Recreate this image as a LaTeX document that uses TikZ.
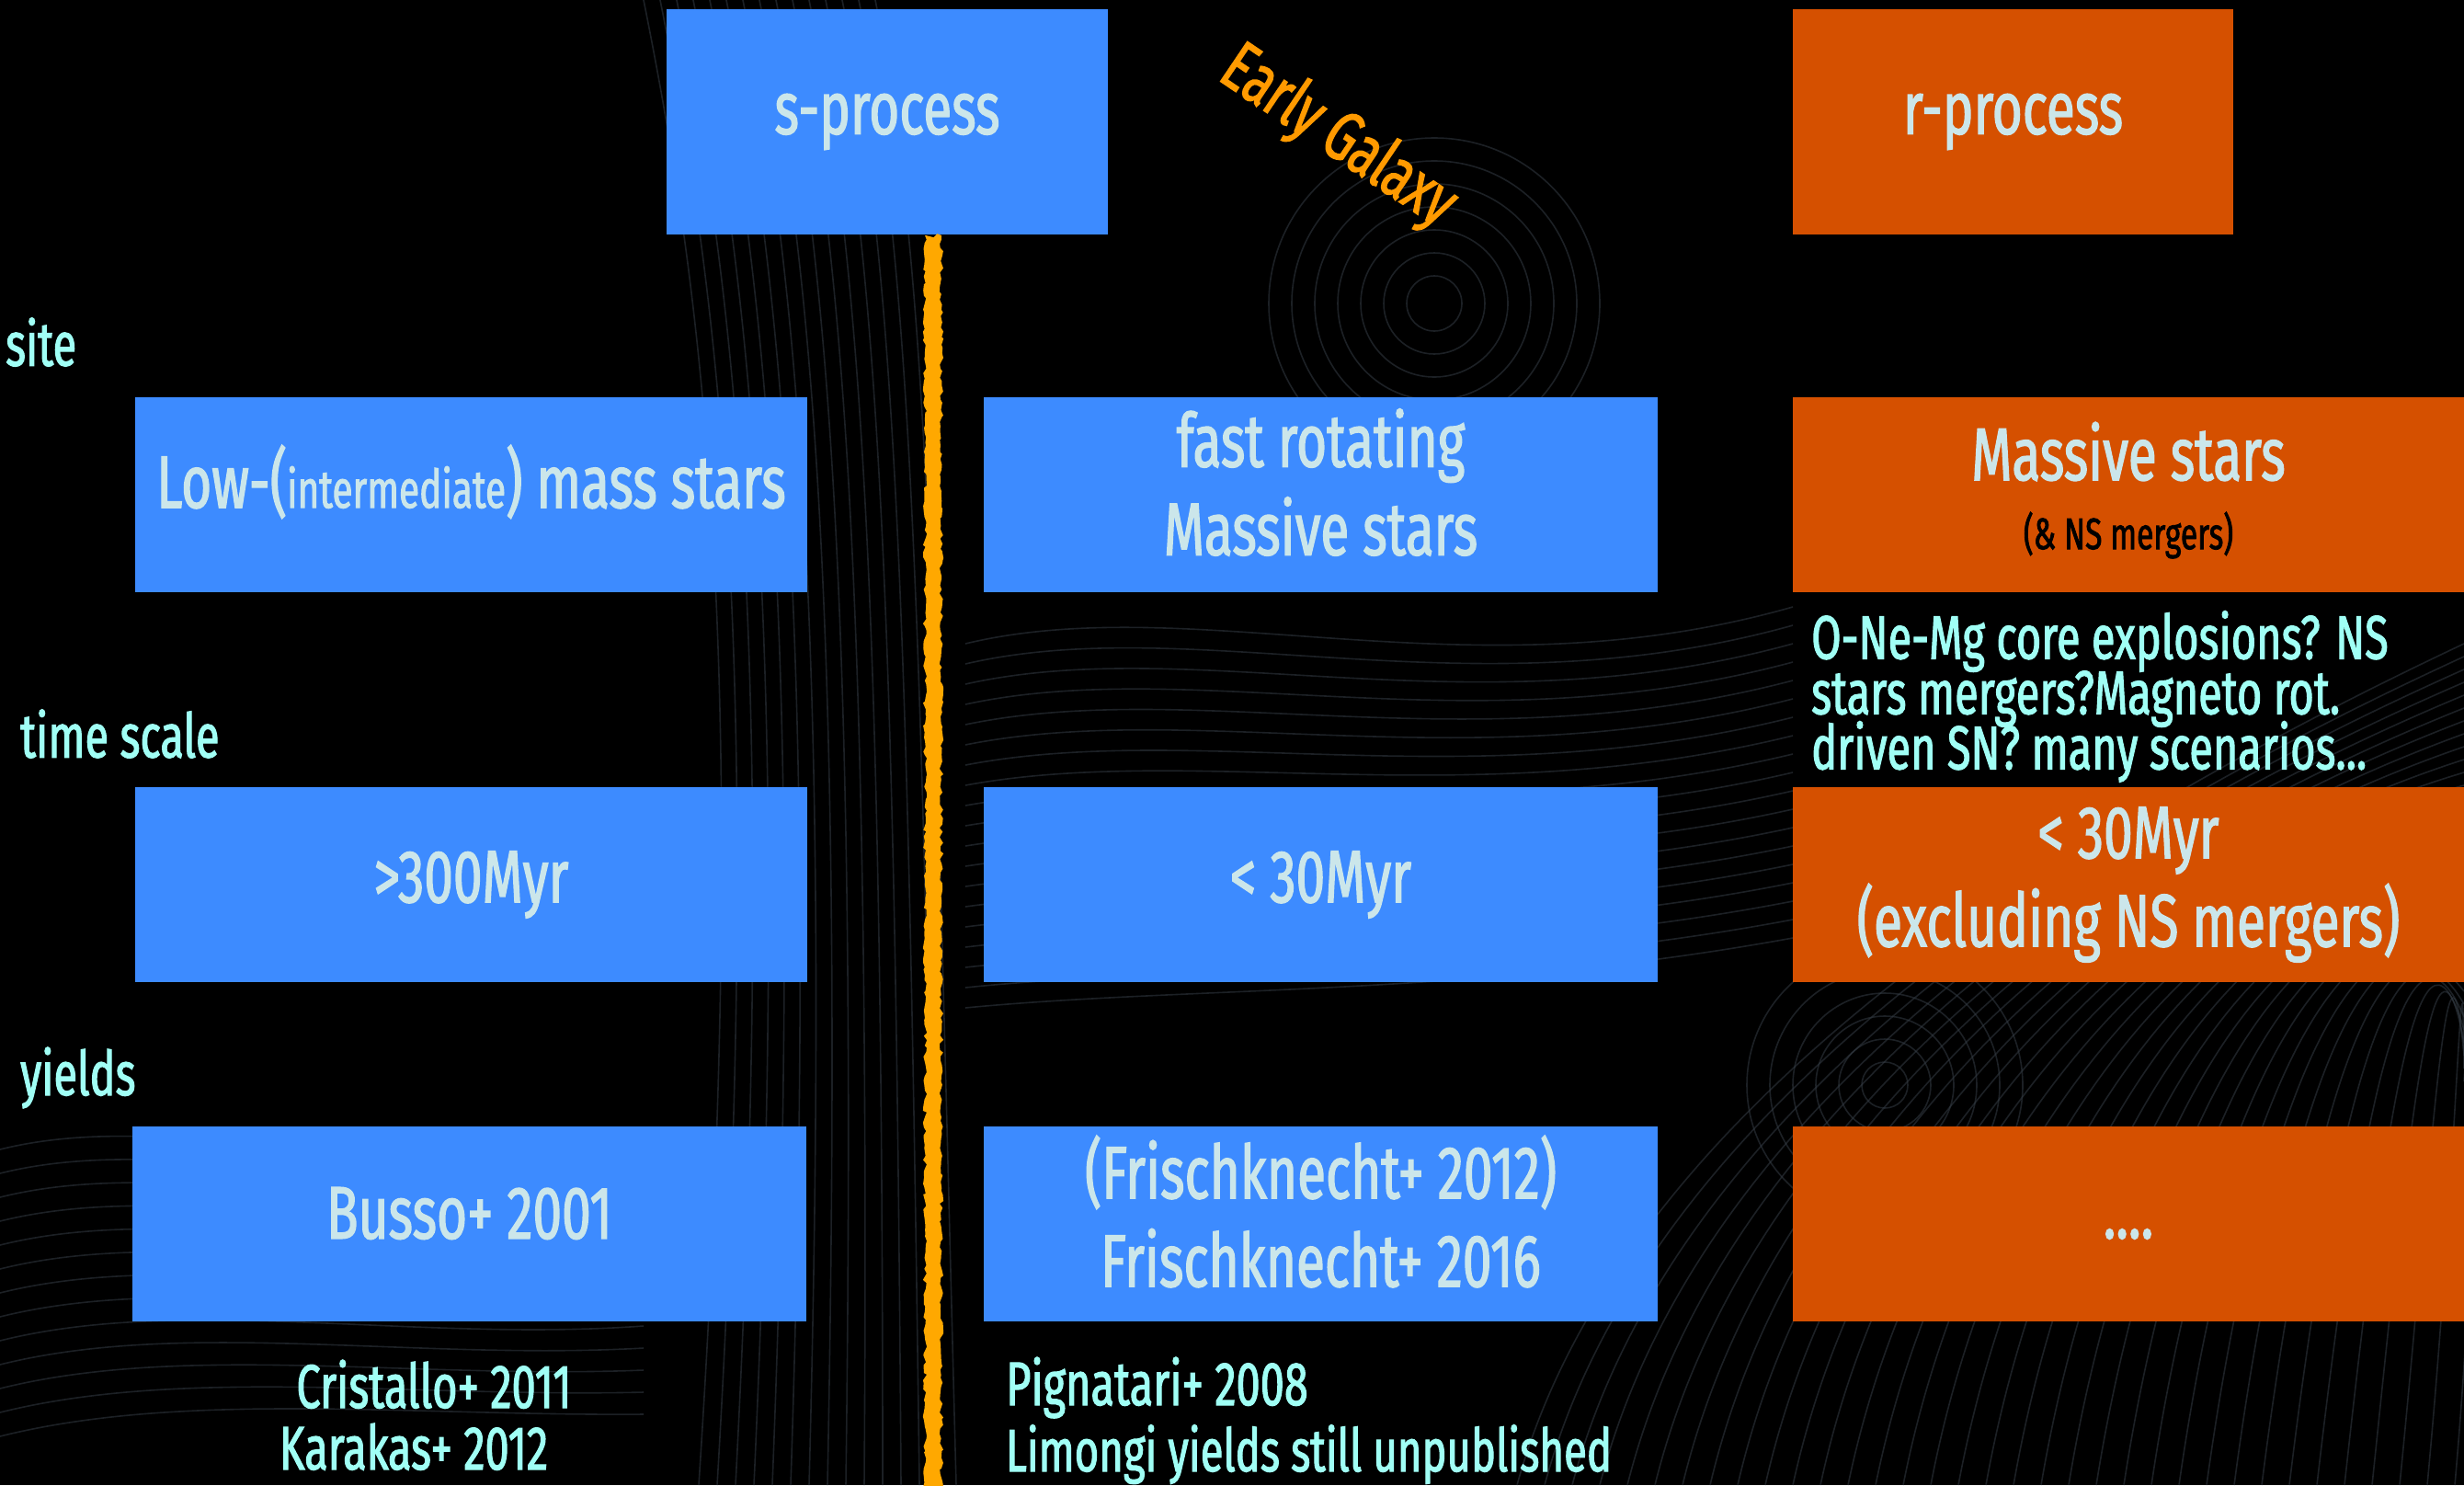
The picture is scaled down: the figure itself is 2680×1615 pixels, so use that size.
\documentclass[tikz,border=0pt]{standalone}
\usepackage{fontspec}
\setmainfont{Fira Sans}[FakeStretch=0.70, FakeBold=1.6]
\usetikzlibrary{decorations.pathmorphing}

\definecolor{boxblue}{RGB}{61,139,255}
\definecolor{boxorange}{RGB}{213,80,0}
\definecolor{boxtext}{RGB}{203,230,234}
\definecolor{notecyan}{RGB}{160,255,245}
\definecolor{galaxyorange}{RGB}{255,154,0}
\definecolor{dividerorange}{RGB}{255,168,0}
\definecolor{swirlgray}{RGB}{52,60,68}

\newcommand{\boxfont}{\fontsize{81pt}{96pt}\selectfont}
\newcommand{\notefont}{\fontsize{67pt}{60pt}\selectfont\lineskiplimit=-100pt\relax}
\newcommand{\smallboxfont}{\fontsize{48pt}{50pt}\selectfont}
% invisible rule that deepens the last line, lifting the text in its box
\newcommand{\lowerdepth}[1]{\rule[-#1]{0pt}{0pt}}

\begin{document}
\begin{tikzpicture}[x=1pt,y=-1pt,
  panel/.style={draw=none, inner sep=0pt, align=center, text=boxtext, font=\boxfont},
  sbox/.style={panel, fill=boxblue},
  rbox/.style={panel, fill=boxorange},
  rowlabel/.style={anchor=west, inner sep=0pt, text=notecyan, font=\notefont},
  note/.style={inner sep=0pt, text=notecyan, font=\notefont},
  swirl/.style={draw=swirlgray, line width=1.6pt, opacity=0.55}
]
\useasboundingbox (0,0) rectangle (2680,1615);
\clip (0,0) rectangle (2680,1615);
\fill[black] (0,0) rectangle (2680,1615);

% faint streamlines of the textured backdrop
\begin{scope}
  \foreach \i in {0,...,34} {
    \draw[swirl] (1650+\i*30,1615) .. controls (1750+\i*28,1250) and (2150+\i*16,950) .. (2680,700+\i*14);
  }
  \foreach \i in {0,...,18} {
    \draw[swirl] (1050,700+\i*22) .. controls (1300,640+\i*24) and (1600,760+\i*18) .. (1950,660+\i*20);
  }
  \foreach \r in {30,55,...,180} {
    \draw[swirl] (1560,330) circle[radius=\r];
  }
  \foreach \r in {25,50,...,150} {
    \draw[swirl] (2050,1180) circle[radius=\r];
  }
  \foreach \i in {0,...,14} {
    \draw[swirl] (700+\i*18,0) .. controls (760+\i*18,300) and (820+\i*14,700) .. (760+\i*20,1615);
  }
  \foreach \i in {0,...,12} {
    \draw[swirl] (0,1250+\i*26) .. controls (200,1200+\i*26) and (450,1300+\i*20) .. (700,1250+\i*24);
  }
\end{scope}

% column heads
\node[sbox, minimum width=480pt, minimum height=245pt] (shead) at (965,132.5) {s-process};
\node[rbox, minimum width=479pt, minimum height=245pt] (rhead) at (2189.5,132.5) {r-process};

% divider between the s-process columns
\pgfmathsetseed{4}
\fill[dividerorange, decorate, decoration={random steps, segment length=5pt, amplitude=2.2pt}]
  (1006,256) -- (1006,1620) -- (1024,1620) -- (1024,256) -- cycle;

\node[text=galaxyorange, font=\fontsize{76pt}{80pt}\selectfont, rotate=-34, inner sep=0pt] (early) at (1455,150) {Early Galaxy};

% row labels
\node[rowlabel] (lsite) at (6,372) {site};
\node[rowlabel] (ltime) at (22,798) {time scale};
\node[rowlabel] (lyield) at (22,1172) {yields};

% site row
\node[sbox, minimum width=731pt, minimum height=212pt] (site1) at (512.5,538)
  {Low-({\fontsize{58pt}{60pt}\selectfont intermediate}) mass stars\lowerdepth{40pt}};
\node[sbox, minimum width=733pt, minimum height=212pt] (site2) at (1436.5,538)
  {fast rotating\\Massive stars\lowerdepth{28pt}};
\node[rbox, minimum width=730pt, minimum height=212pt] (site3) at (2315,538) {};
\node[text=boxtext, font=\boxfont, inner sep=0pt] (site3main) at (2315,491) {Massive stars};
\node[text=black, font=\smallboxfont, inner sep=0pt] (site3sub) at (2315,582) {(\& NS mergers)};
\node[note, anchor=north west, align=left] (rscen) at (1970,664)
  {O-Ne-Mg core explosions? NS\\stars mergers?Magneto rot.\\driven SN? many scenarios...};

% time scale row
\node[sbox, minimum width=731pt, minimum height=212pt] (time1) at (512.5,962) {>300Myr};
\node[sbox, minimum width=733pt, minimum height=212pt] (time2) at (1436.5,962) {< 30Myr};
\node[rbox, minimum width=730pt, minimum height=212pt] (time3) at (2315,962)
  {< 30Myr\\(excluding NS mergers)};

% yields row
\node[sbox, minimum width=733pt, minimum height=212pt] (yield1) at (510.5,1331) {Busso+ 2001\lowerdepth{24pt}};
\node[sbox, minimum width=733pt, minimum height=212pt] (yield2) at (1436.5,1331)
  {(Frischknecht+ 2012)\\Frischknecht+ 2016\lowerdepth{28pt}};
\node[rbox, minimum width=730pt, minimum height=212pt] (yield3) at (2315,1331) {};
\node[text=boxtext, font=\boxfont, inner sep=0pt] (yield3dots) at (2315,1342) {....};

% further references
\node[note, anchor=base] (crist) at (472,1531) {Cristallo+ 2011};
\node[note, anchor=base] (karak) at (450,1598) {Karakas+ 2012};
\node[note, anchor=base west] (pign) at (1094,1528) {Pignatari+ 2008};
\node[note, anchor=base west, font=\fontsize{65pt}{60pt}\selectfont] (limo) at (1094,1600) {Limongi yields still unpublished};
\end{tikzpicture}
\end{document}
